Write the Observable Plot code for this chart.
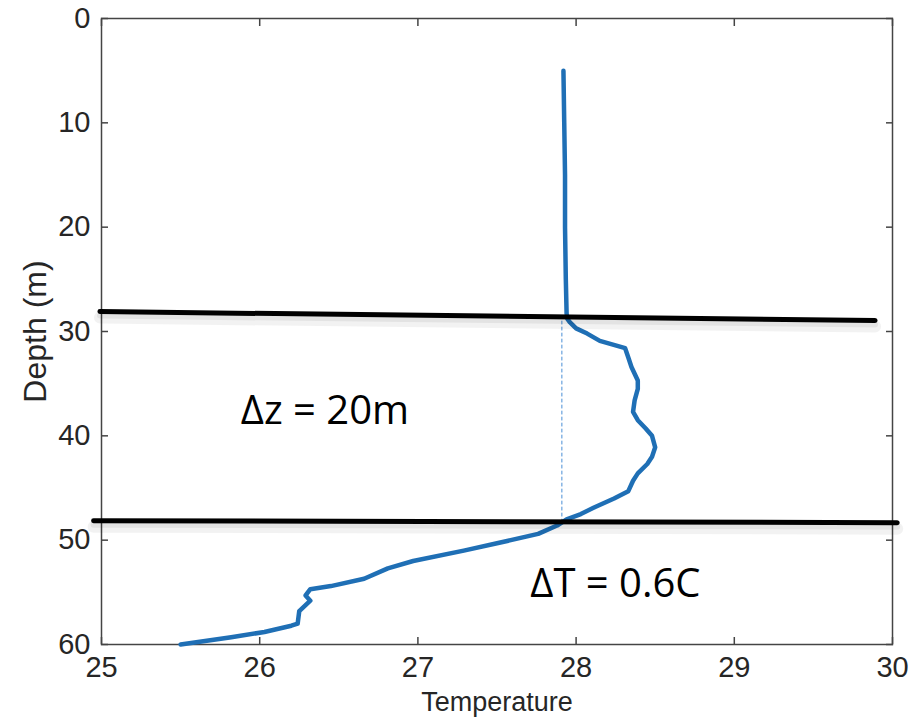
<!DOCTYPE html>
<html>
<head>
<meta charset="utf-8">
<script src="https://cdn.jsdelivr.net/npm/d3@7"></script>
<script src="https://cdn.jsdelivr.net/npm/@observablehq/plot@0.6"></script>
<style>
  html, body { margin: 0; padding: 0; background: #fff; }
  #chart { width: 920px; height: 722px; }
</style>
</head>
<body>
<div id="chart"></div>
<script>
// Temperature profile (depth in m, temperature in °C)
const depth = [5, 10, 15, 20, 25, 28.3, 28.8, 29.1, 29.7, 30.2, 30.9, 31.6, 32.5, 33.4, 34.7, 35.5, 36.6, 37.7, 38.5, 39.3, 40, 41.1, 42, 42.7, 43.6, 44.3, 45.3, 46, 46.9, 47.5, 48, 48.6, 49.4, 50.3, 51, 52, 52.7, 53.7, 54.4, 54.7, 55.3, 55.8, 56.8, 58.0, 58.2, 58.8, 59.3, 60];
const temp  = [27.92, 27.925, 27.93, 27.93, 27.935, 27.94, 27.945, 27.96, 28.0, 28.07, 28.15, 28.31, 28.33, 28.35, 28.39, 28.39, 28.37, 28.36, 28.39, 28.44, 28.48, 28.50, 28.48, 28.45, 28.39, 28.36, 28.33, 28.24, 28.11, 28.03, 27.94, 27.88, 27.76, 27.50, 27.29, 26.97, 26.81, 26.66, 26.45, 26.32, 26.29, 26.32, 26.25, 26.24, 26.20, 26.03, 25.82, 25.5];

// Reference (dashed) line at the mixed-layer temperature
const refT = [27.91, 27.91];
const refZ = [29, 48.5];

// Hand-drawn black boundary lines
const topLineT = [24.99, 29.89];
const topLineZ = [28.09, 28.95];
const botLineT = [24.95, 30.03];
const botLineZ = [48.13, 48.32];

// Annotations
const noteText = ["\u0394z = 20m", "\u0394T = 0.6C"];
const noteT = [25.88, 27.71];
const noteZ = [37.6, 54.2];

const xTicks = [25, 26, 27, 28, 29, 30];
const yTicks = [0, 10, 20, 30, 40, 50, 60];

const profile = depth.map((z, i) => ({z, t: temp[i]}));
const ref = refZ.map((z, i) => ({z, t: refT[i]}));
const topLine = topLineZ.map((z, i) => ({z, t: topLineT[i]}));
const botLine = botLineZ.map((z, i) => ({z, t: botLineT[i]}));
const notes = noteText.map((s, i) => ({s, t: noteT[i], z: noteZ[i]}));

const axisColor = "#444";
const font = "'Liberation Sans', Arial, Helvetica, sans-serif";
const noText = () => "";
const intFmt = d3.format("d");

const chart = Plot.plot({
  width: 920,
  height: 722,
  marginLeft: 101,
  marginRight: 28,
  marginTop: 18,
  marginBottom: 78,
  style: {fontFamily: font, background: "#fff", overflow: "visible"},
  x: {domain: [25, 30], ticks: xTicks},
  y: {domain: [0, 60], ticks: yTicks, reverse: true},
  marks: [
    Plot.frame({stroke: axisColor, strokeWidth: 1.5}),
    Plot.axisX({anchor: "bottom", ticks: xTicks, tickSize: -7, tickFormat: noText, label: null, stroke: axisColor, strokeWidth: 1.5}),
    Plot.axisX({anchor: "top", ticks: xTicks, tickSize: -7, tickFormat: noText, label: null, stroke: axisColor, strokeWidth: 1.5}),
    Plot.axisY({anchor: "left", ticks: yTicks, tickSize: -7, tickFormat: noText, label: null, stroke: axisColor, strokeWidth: 1.5}),
    Plot.axisY({anchor: "right", ticks: yTicks, tickSize: -7, tickFormat: noText, label: null, stroke: axisColor, strokeWidth: 1.5}),
    Plot.axisX({anchor: "bottom", ticks: xTicks, tickSize: 0, tickPadding: 12, tickFormat: intFmt, label: null, fontSize: 29, fill: "#262626"}),
    Plot.axisY({anchor: "left", ticks: yTicks, tickSize: 0, tickPadding: 11, tickFormat: intFmt, label: null, fontSize: 29, fill: "#262626"}),
    Plot.text(["Temperature"], {frameAnchor: "bottom", dy: 58, fontSize: 27, fill: "#262626", textAnchor: "middle", lineAnchor: "middle"}),
    Plot.text(["Depth (m)"], {frameAnchor: "left", dx: -66, rotate: -90, fontSize: 32, fill: "#262626", textAnchor: "middle", lineAnchor: "middle"}),
    Plot.line(ref, {x: "t", y: "z", stroke: "#4a8fd6", strokeWidth: 1, strokeDasharray: "3,3"}),
    Plot.line(profile, {x: "t", y: "z", stroke: "#1f6fb5", strokeWidth: 4.5, curve: "linear", strokeLinejoin: "round", strokeLinecap: "round"}),
    Plot.line(topLine, {x: "t", y: "z", stroke: "#000", strokeOpacity: 0.05, strokeWidth: 12, dy: 6, clip: false}),
    Plot.line(botLine, {x: "t", y: "z", stroke: "#000", strokeOpacity: 0.05, strokeWidth: 12, dy: 6, clip: false}),
    Plot.line(topLine, {x: "t", y: "z", stroke: "#000", strokeOpacity: 0.06, strokeWidth: 6, dy: 4, clip: false}),
    Plot.line(botLine, {x: "t", y: "z", stroke: "#000", strokeOpacity: 0.06, strokeWidth: 6, dy: 4, clip: false}),
    Plot.line(topLine, {x: "t", y: "z", stroke: "#000", strokeWidth: 5, clip: false}),
    Plot.line(botLine, {x: "t", y: "z", stroke: "#000", strokeWidth: 5, clip: false}),
    Plot.text(notes, {x: "t", y: "z", text: "s", textAnchor: "start", fontSize: 40, fill: "#000", fontFamily: "'Open Sans', Lato, sans-serif", lineAnchor: "middle"})
  ]
});
document.getElementById("chart").appendChild(chart);
</script>
</body>
</html>
